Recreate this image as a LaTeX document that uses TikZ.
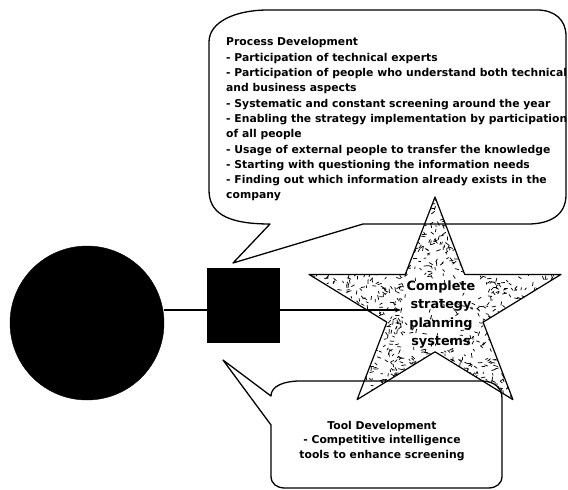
\documentclass[tikz,border=0pt]{standalone}
\usepackage{fontspec}
\setmainfont{DejaVu Sans}
\usetikzlibrary{arrows.meta}
\begin{document}
\begin{tikzpicture}[x=1pt,y=-1pt,
  outline/.style={line width=1.2pt,line join=round},
  speck/.style={line width=0.75pt,line cap=round},
  calloutline/.style={line width=1.3pt,line join=round},
  bodytext/.style={inner sep=0pt,font=\bfseries\fontsize{10.8}{15.3}\selectfont},
  startext/.style={inner sep=0pt,align=center,font=\bfseries\fontsize{12.8}{18.3}\selectfont},
  blob/.style={fill=black,draw=black,inner sep=0pt}]
\useasboundingbox (0,0) rectangle (568,490);

% five-pointed star, slightly flattened
\coordinate (s1) at (435,197);
\coordinate (s2) at (464.7,274.4);
\coordinate (s3) at (561,274.4);
\coordinate (s4) at (483.1,322.2);
\coordinate (s5) at (512.9,399.6);
\coordinate (s6) at (435,351.8);
\coordinate (s7) at (357.1,399.6);
\coordinate (s8) at (386.9,322.2);
\coordinate (s9) at (309,274.4);
\coordinate (s10) at (405.3,274.4);
\begin{scope}
  \clip (s1) -- (s2) -- (s3) -- (s4) -- (s5) -- (s6) -- (s7) -- (s8) -- (s9) -- (s10) -- cycle;
  \pgfmathsetseed{11}
  % speckle fill, thinned out behind the label
  \foreach \k in {1,...,2000}{
    \pgfmathsetmacro\px{309+252*rnd}
    \pgfmathsetmacro\py{197+203*rnd}
    \pgfmathsetmacro\keep{((\px>403)&&(\px<479)&&(\py>276)&&(\py<350)&&(rnd>0.2)) ? 0 : 1}
    \ifdim\keep pt>0.5pt
      \draw[speck] (\px,\py) -- ++({360*rnd}:{1.8+2.7*rnd});
    \fi
  }
\end{scope}
\draw[outline] (s1) -- (s2) -- (s3) -- (s4) -- (s5) -- (s6) -- (s7) -- (s8) -- (s9) -- (s10) -- cycle;
\node[startext] (star) at (441,314.5) {Complete\\strategy\\planning\\systems};

% upper speech bubble
\coordinate (tipA) at (233,263);
\draw[calloutline] (tipA) -- (270,224)
  .. controls (225,224) and (209,212) .. (209,190)
  -- (209,42) .. controls (209,22) and (235,10) .. (268,10)
  -- (537,10) .. controls (555,10) and (566,20) .. (566,36)
  -- (566,195) .. controls (566,215) and (550,224) .. (528,224)
  -- (363,224) -- cycle;
\node[bodytext,anchor=north west,align=left] (proc) at (226,37.5)
  {Process Development\\
   - Participation of technical experts\\
   - Participation of people who understand both technical\\
   and business aspects\\
   - Systematic and constant screening around the year\\
   - Enabling the strategy implementation by participation\\
   of all people\\
   - Usage of external people to transfer the knowledge\\
   - Starting with questioning the information needs\\
   - Finding out which information already exists in the\\
   company};

% lower speech bubble
\coordinate (tipB) at (223,360);
\draw[calloutline] (tipB) -- (271,396)
  .. controls (271,386) and (284,381) .. (300,381)
  -- (482,381) .. controls (494,381) and (502,388) .. (502,398)
  -- (502,476) .. controls (502,484) and (496,488) .. (488,488)
  -- (285,488) .. controls (277,488) and (271,484) .. (271,476)
  -- (271,425) -- cycle;
\node[bodytext,align=center,font=\bfseries\fontsize{10.8}{14.5}\selectfont] (tool) at (382,441)
  {Tool Development\\- Competitive intelligence\\tools to enhance screening};

% circle, square and their connectors
\node[blob,circle,minimum size=154pt] (circ) at (87,323) {};
\node[blob,rectangle,minimum width=72pt,minimum height=74pt] (sq) at (243,305) {};
\coordinate (arrowend) at (401,310);
\draw[line width=1.2pt] ([yshift=-5pt]sq.west) -- ([yshift=-5pt]sq.west -| circ.east);
\draw[line width=1.2pt,-{Stealth[length=6pt,width=4.5pt]}] ([yshift=-5pt]sq.east) -- (arrowend);
\end{tikzpicture}
\end{document}
